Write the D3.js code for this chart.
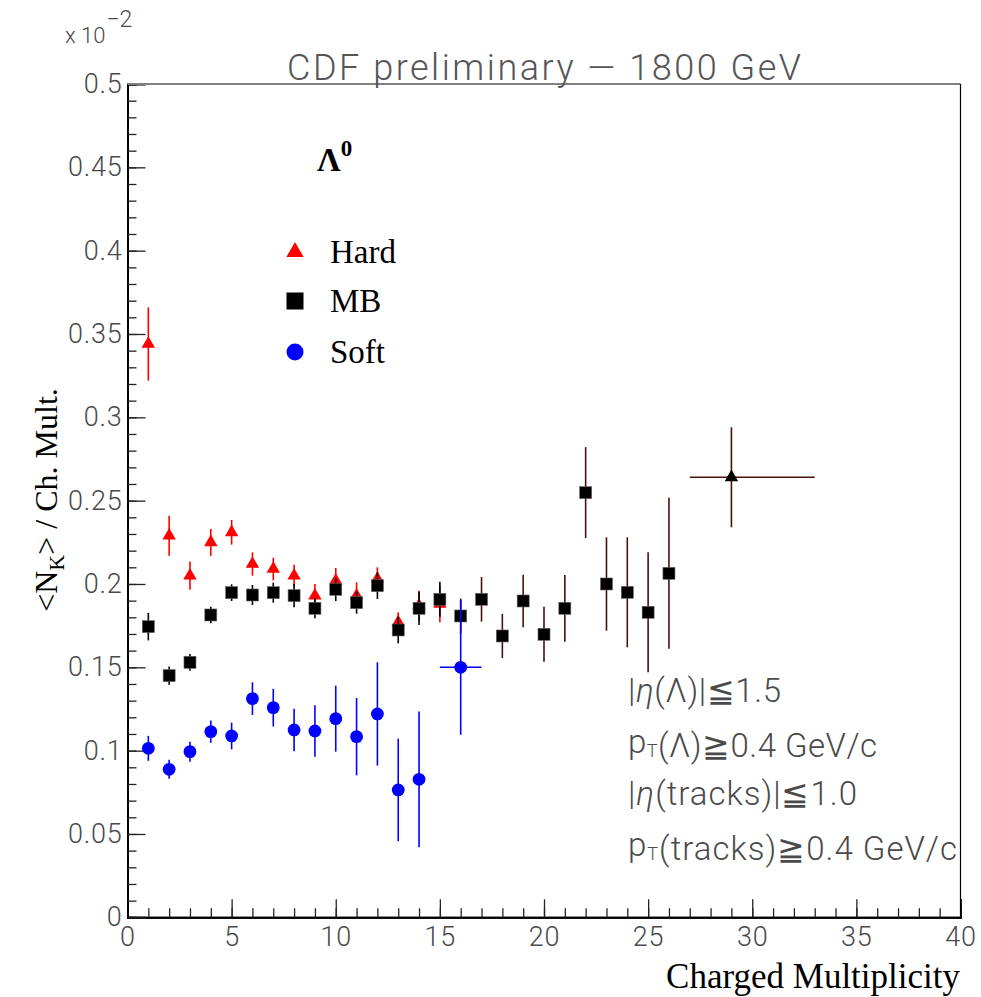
<!DOCTYPE html>
<html>
<head>
<meta charset="utf-8">
<script src="https://cdn.jsdelivr.net/npm/d3@7"></script>
<style>
  body { margin: 0; background: #fff; }
  svg { display: block; }
</style>
</head>
<body>
<script>
const width = 981;
const height = 997;

// values are in units of 10^-2 (as on the axis)
const hardX   = [1, 2, 3, 4, 5, 6, 7, 8, 9, 10, 11, 12, 13, 14, 15];
const hardY   = [0.344, 0.229, 0.205, 0.225, 0.231, 0.212, 0.209, 0.205, 0.193, 0.202, 0.193, 0.203, 0.177, 0.187, 0.188];
const hardErr = [0.022, 0.012, 0.0085, 0.008, 0.0074, 0.007, 0.0068, 0.0065, 0.007, 0.0076, 0.008, 0.007, 0.006, 0.009, 0.011];

const mbX   = [1, 2, 3, 4, 5, 6, 7, 8, 9, 10, 11, 12, 13, 14, 15, 16, 17, 18, 19, 20, 21, 22, 23, 24, 25, 26];
const mbY   = [0.1744, 0.145, 0.153, 0.1814, 0.1948, 0.1934, 0.1948, 0.193, 0.1854, 0.1968, 0.1888, 0.199, 0.1724,
               0.1854, 0.1908, 0.1808, 0.1908, 0.1688, 0.1898, 0.1698, 0.1854, 0.2548, 0.2, 0.195, 0.183, 0.2064];
const mbErr = [0.0083, 0.0055, 0.005, 0.005, 0.005, 0.006, 0.006, 0.007, 0.006, 0.007, 0.0066, 0.008, 0.008,
               0.01, 0.0105, 0.0105, 0.0134, 0.0133, 0.0157, 0.0165, 0.02, 0.0273, 0.028, 0.033, 0.036, 0.0453];

const softX    = [1, 2, 3, 4, 5, 6, 7, 8, 9, 10, 11, 12, 13, 14, 16];
const softY    = [0.1014, 0.0888, 0.0994, 0.1114, 0.1088, 0.1312, 0.1258, 0.1124, 0.1118, 0.1192, 0.1084, 0.122, 0.0764, 0.0828, 0.150];
const softErr  = [0.0075, 0.0057, 0.006, 0.0067, 0.008, 0.0098, 0.0113, 0.0128, 0.0155, 0.0198, 0.0232, 0.031, 0.0308, 0.0407, 0.0405];
const softXLo  = [0, 0, 0, 0, 0, 0, 0, 0, 0, 0, 0, 0, 0, 0, 1];
const softXHi  = [0, 0, 0, 0, 0, 0, 0, 0, 0, 0, 0, 0, 0, 0, 1];

// last wide bin (27-33, mean at 29)
const tailX   = [29];
const tailY   = [0.264];
const tailErr = [0.03];
const tailXLo = [2];
const tailXHi = [4];

const xTicks = [0, 5, 10, 15, 20, 25, 30, 35, 40];
const yTicks = [0, 0.05, 0.1, 0.15, 0.2, 0.25, 0.3, 0.35, 0.4, 0.45, 0.5];

const cuts = ["eta", "ptL", "etaT", "ptT"];

const lightFont = "Roboto, 'DejaVu Sans', sans-serif";
const serifFont = "'Liberation Serif', 'Times New Roman', serif";
const grayText = "#4a4a4a";

const x = d3.scaleLinear().domain([0, 40]).range([127.5, 960.5]);
const y = d3.scaleLinear().domain([0, 0.5]).range([917.3, 84]);

const svg = d3.select("body").append("svg")
    .attr("width", width)
    .attr("height", height);

// axes, ticks inward
const xAxis = svg.append("g")
    .attr("transform", `translate(0,${y(0)})`)
    .call(d3.axisBottom(x).tickValues(xTicks).tickSize(-18).tickPadding(9).tickFormat(d3.format("d")));
svg.append("g")
    .attr("transform", `translate(0,${y(0)})`)
    .call(d3.axisBottom(x).tickValues(d3.range(0, 41, 1)).tickSize(-9).tickFormat(""));

const yAxis = svg.append("g")
    .attr("transform", `translate(${x(0)},0)`)
    .call(d3.axisLeft(y).tickValues(yTicks).tickSize(-18).tickPadding(5)
        .tickFormat(d => String(+d.toFixed(2))));
svg.append("g")
    .attr("transform", `translate(${x(0)},0)`)
    .call(d3.axisLeft(y).tickValues(d3.range(0, 51).map(i => i / 100)).tickSize(-9).tickFormat(""));

svg.selectAll(".domain").attr("stroke", "#000").attr("stroke-width", 2);
svg.selectAll(".tick line").attr("stroke", "#222").attr("stroke-width", 1.3);
svg.selectAll(".tick text")
    .attr("font-family", lightFont)
    .attr("font-weight", 300)
    .attr("font-size", 27)
    .attr("letter-spacing", 0.8)
    .attr("fill", grayText);
xAxis.selectAll(".tick text").attr("dy", "0.72em");

// frame top and right
svg.append("line")
    .attr("x1", x(0)).attr("x2", x(40)).attr("y1", y(0.5)).attr("y2", y(0.5))
    .attr("stroke", "#808080").attr("stroke-width", 2);
svg.append("line")
    .attr("x1", x(40)).attr("x2", x(40)).attr("y1", y(0.5)).attr("y2", y(0))
    .attr("stroke", "#000").attr("stroke-width", 1.2);

// exponent label
const expo = svg.append("text")
    .attr("x", 65).attr("y", 43)
    .attr("font-family", lightFont).attr("font-weight", 300)
    .attr("font-size", 22).attr("fill", grayText);
expo.append("tspan").text("x 10");
expo.append("tspan").attr("dy", -16).attr("dx", 1).attr("font-size", 23).text("−2");

// title
svg.append("text")
    .attr("x", 287).attr("y", 80)
    .attr("textLength", 514).attr("lengthAdjust", "spacing")
    .attr("font-family", lightFont).attr("font-weight", 300)
    .attr("font-size", 36).attr("fill", "#555")
    .text("CDF preliminary — 1800 GeV");

// axis titles
svg.append("text")
    .attr("x", 960).attr("y", 988)
    .attr("text-anchor", "end")
    .attr("font-family", serifFont).attr("font-size", 35)
    .text("Charged Multiplicity");

const yt = svg.append("text")
    .attr("transform", "translate(57,500) rotate(-90)")
    .attr("text-anchor", "middle")
    .attr("font-family", serifFont).attr("font-size", 32);
yt.append("tspan").text("<N");
yt.append("tspan").attr("font-size", 22).attr("dy", 7).text("K");
yt.append("tspan").attr("dy", -7).text("> / Ch. Mult.");

// Lambda label
const lam = svg.append("text")
    .attr("x", 317).attr("y", 171)
    .attr("font-family", serifFont).attr("font-weight", "bold")
    .attr("font-size", 33);
lam.append("tspan").text("Λ");
lam.append("tspan").attr("dy", -15).attr("font-size", 23).text("0");

// error bars + markers
function errorBars(g, xs, ys, es, xlo, xhi, color) {
    const col = (d, i) => typeof color === "function" ? color(d, i) : color;
    g.selectAll("line.ey").data(xs).join("line")
        .attr("class", "ey")
        .attr("x1", d => x(d)).attr("x2", d => x(d))
        .attr("y1", (d, i) => y(ys[i] - es[i]))
        .attr("y2", (d, i) => y(ys[i] + es[i]))
        .attr("stroke", col)
        .attr("stroke-width", 1.6);
    if (xlo) {
        g.selectAll("line.ex").data(xs).join("line")
            .attr("class", "ex")
            .attr("display", (d, i) => xlo[i] + xhi[i] > 0 ? null : "none")
            .attr("x1", (d, i) => x(d - xlo[i]))
            .attr("x2", (d, i) => x(d + xhi[i]))
            .attr("y1", (d, i) => y(ys[i]))
            .attr("y2", (d, i) => y(ys[i]))
            .attr("stroke", col)
            .attr("stroke-width", 1.6);
    }
}

const triangle = d3.symbol().type(d3.symbolTriangle).size(78);
const bigTriangle = d3.symbol().type(d3.symbolTriangle).size(130);
const maroon = "#4a1010";

// Hard
const gHard = svg.append("g");
errorBars(gHard, hardX, hardY, hardErr, null, null, "#ff0000");
gHard.selectAll("path").data(hardX).join("path")
    .attr("d", triangle)
    .attr("transform", (d, i) => `translate(${x(d)},${y(hardY[i])})`)
    .attr("fill", "#ff0000");

// MB
const gMB = svg.append("g");
errorBars(gMB, mbX, mbY, mbErr, null, null, d => d > 15 ? maroon : "#000");
gMB.selectAll("rect").data(mbX).join("rect")
    .attr("x", d => x(d) - 6).attr("width", 12)
    .attr("y", (d, i) => y(mbY[i]) - 6).attr("height", 12)
    .attr("fill", "#000")
    .attr("stroke", "#666").attr("stroke-width", 0.6);

// tail bin
const gTail = svg.append("g");
errorBars(gTail, tailX, tailY, tailErr, tailXLo, tailXHi, maroon);
gTail.selectAll("path").data(tailX).join("path")
    .attr("d", triangle)
    .attr("transform", (d, i) => `translate(${x(d)},${y(tailY[i])})`)
    .attr("fill", "#000");

// Soft
const gSoft = svg.append("g");
errorBars(gSoft, softX, softY, softErr, softXLo, softXHi, "#0000ff");
gSoft.selectAll("circle").data(softX).join("circle")
    .attr("cx", d => x(d))
    .attr("cy", (d, i) => y(softY[i]))
    .attr("r", 6.4)
    .attr("fill", "#0000ff");

// legend
const legend = svg.append("g");
const legNames = ["Hard", "MB", "Soft"];
const legY = [252, 301, 352];
legend.append("path").attr("d", bigTriangle)
    .attr("transform", `translate(295,${legY[0]})`).attr("fill", "#ff0000");
legend.append("rect").attr("x", 286.5).attr("y", legY[1] - 8.5)
    .attr("width", 17).attr("height", 17).attr("fill", "#000");
legend.append("circle").attr("cx", 295).attr("cy", legY[2]).attr("r", 8.5).attr("fill", "#0000ff");
legend.selectAll("text").data(legNames).join("text")
    .attr("x", 330).attr("y", (d, i) => legY[i] + 11)
    .attr("font-family", serifFont).attr("font-size", 33)
    .text(d => d);

// cut annotations
const cutY = [702, 753, 805, 856];
const cutW = [153, 249, 229, 329];
const ann = svg.append("g")
    .attr("font-family", lightFont).attr("font-weight", 300)
    .attr("font-size", 33).attr("fill", grayText);

function eta(t) {
    t.append("tspan").text("|");
    t.append("tspan").attr("font-style", "italic").text("η");
}
function pt(t) {
    t.append("tspan").text("p");
    t.append("tspan").attr("font-size", 18).attr("dy", 4).text("T");
    t.append("tspan").attr("dy", -4).text("");
}
cuts.forEach((c, i) => {
    const t = ann.append("text").attr("x", 628).attr("y", cutY[i])
        .attr("textLength", cutW[i]).attr("lengthAdjust", "spacing");
    if (c === "eta") { eta(t); t.append("tspan").text("(Λ)|≦1.5"); }
    if (c === "ptL") { pt(t); t.append("tspan").text("(Λ)≧0.4 GeV/c"); }
    if (c === "etaT") { eta(t); t.append("tspan").text("(tracks)|≦1.0"); }
    if (c === "ptT") { pt(t); t.append("tspan").text("(tracks)≧0.4 GeV/c"); }
});
</script>
</body>
</html>
